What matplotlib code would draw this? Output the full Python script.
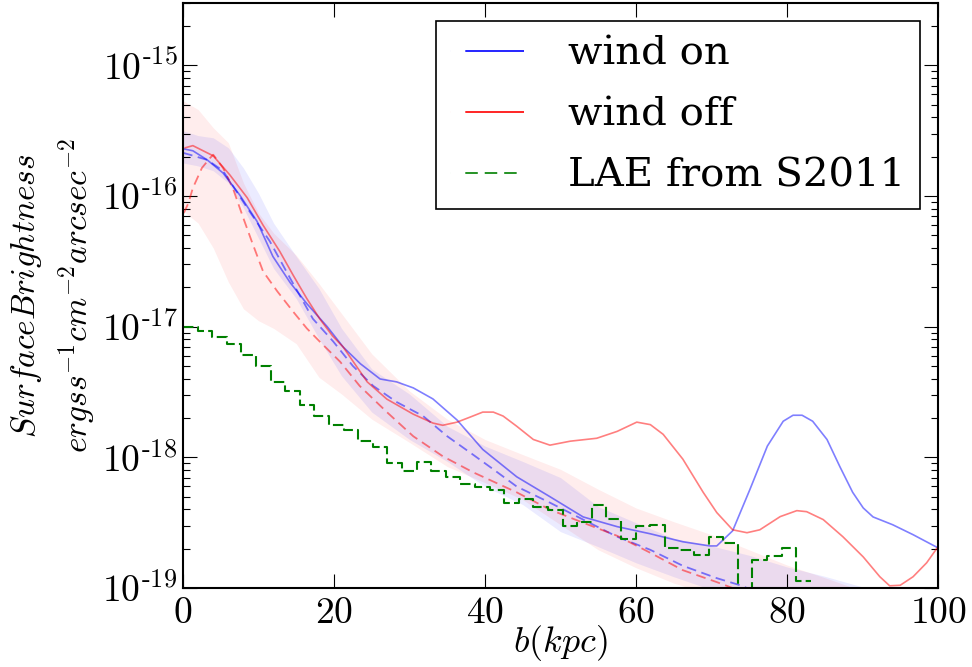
import matplotlib
matplotlib.use('Agg')
import matplotlib.pyplot as plt
from matplotlib.lines import Line2D
from matplotlib.ticker import FuncFormatter, LogLocator, FixedLocator, NullLocator
import numpy as np

plt.rcParams['mathtext.fontset'] = 'cm'
plt.rcParams['lines.scale_dashes'] = False

# wind on (solid)
on_x = [0, 1.3, 3.2, 5.3, 7.5, 9.8, 11.9, 14.2, 16.4, 19.1, 21.2, 23.5, 26.1, 28.3,
        30.5, 33.1, 36.3, 39.7, 44.2, 48.6, 53.0, 57.5, 61.9, 66.2, 69.8, 70.7, 72.8,
        75.1, 77.4, 79.5, 80.8, 82.0, 83.4, 85.3, 87.0, 88.7, 90.1, 91.4, 94.0, 96.7, 100]
on_y = [2.30e-16, 2.22e-16, 1.89e-16, 1.50e-16, 1.02e-16, 6.4e-17, 3.45e-17, 2.17e-17,
        1.50e-17, 1.0e-17, 7.0e-18, 5.2e-18, 3.98e-18, 3.78e-18, 3.40e-18, 2.8e-18,
        1.93e-18, 1.15e-18, 7.1e-19, 5.0e-19, 3.5e-19, 2.95e-19, 2.6e-19, 2.26e-19,
        2.1e-19, 2.1e-19, 2.74e-19, 5.7e-19, 1.22e-18, 1.89e-18, 2.1e-18, 2.1e-18,
        1.89e-18, 1.37e-18, 8.5e-19, 5.4e-19, 4.1e-19, 3.5e-19, 3.05e-19, 2.56e-19, 2.03e-19]

# wind off (solid)
off_x = [0.3, 1.3, 4.0, 6.2, 8.5, 10.6, 12.8, 14.6, 16.4, 18.1, 19.8, 21.2, 24.4, 27.0,
         30.5, 33.1, 34.4, 36.3, 38.0, 39.7, 41.1, 42.4, 44.2, 46.4, 48.6, 51.3, 54.8,
         57.5, 60.1, 61.9, 63.6, 66.2, 68.9, 70.7, 72.8, 74.7, 76.4, 79.1, 81.3, 82.6,
         84.8, 87.4, 90.1, 92.3, 93.6, 95.0, 96.7, 98.5, 99.9]
off_y = [2.34e-16, 2.43e-16, 2.03e-16, 1.45e-16, 9.7e-17, 5.98e-17, 3.78e-17, 2.47e-17,
         1.64e-17, 1.15e-17, 8.5e-18, 7.0e-18, 3.78e-18, 2.79e-18, 2.14e-18, 1.83e-18,
         1.76e-18, 1.86e-18, 2.03e-18, 2.22e-18, 2.22e-18, 2.07e-18, 1.73e-18, 1.37e-18,
         1.24e-18, 1.33e-18, 1.40e-18, 1.58e-18, 1.86e-18, 1.78e-18, 1.50e-18, 9.7e-19,
         5.4e-19, 3.78e-19, 2.79e-19, 2.65e-19, 2.79e-19, 3.52e-19, 3.91e-19, 3.84e-19,
         3.34e-19, 2.47e-19, 1.73e-19, 1.22e-19, 1.04e-19, 1.05e-19, 1.22e-19, 1.56e-19, 2.03e-19]

# dashed curves
on_med_x = [0, 0.9, 3.2, 5.3, 8.5, 11.5, 14.2, 17.2, 19.9, 22.5, 25.2, 28.3, 31.8, 35.0,
            38.4, 41.1, 44.2, 48.6, 53.0, 57.5, 61.9, 66.2, 70.7, 73.8, 74.7, 78.0]
on_med_y = [2.14e-16, 2.07e-16, 1.89e-16, 1.56e-16, 8.1e-17, 4.5e-17, 2.34e-17, 1.15e-17,
            7.7e-18, 5.0e-18, 3.52e-18, 2.65e-18, 2.07e-18, 1.45e-18, 1.05e-18, 8.1e-19,
            5.98e-19, 4.5e-19, 3.34e-19, 2.47e-19, 1.96e-19, 1.48e-19, 1.19e-19, 1.05e-19,
            1.0e-19, 8.5e-20]
off_med_x = [0.1, 0.7, 1.3, 2.5, 3.6, 4.0, 5.3, 6.6, 7.9, 9.1, 10.6, 12.5, 14.6, 16.4,
             18.1, 20.8, 23.4, 27.0, 30.5, 34.4, 38.4, 44.2, 48.6, 53.0, 57.5, 61.9,
             66.2, 70.7, 72.8, 76.0]
off_med_y = [7.4e-17, 8.8e-17, 1.15e-16, 1.64e-16, 1.96e-16, 2.07e-16, 1.64e-16, 1.15e-16,
             7.0e-17, 4.5e-17, 2.65e-17, 1.86e-17, 1.30e-17, 9.7e-18, 7.7e-18, 5.4e-18,
             3.52e-18, 2.22e-18, 1.45e-18, 1.02e-18, 7.7e-19, 5.4e-19, 3.98e-19, 3.16e-19,
             2.51e-19, 1.86e-19, 1.37e-19, 1.11e-19, 1.0e-19, 8.5e-20]

# shaded ranges
band_x = [0, 2, 4, 6, 8, 10, 12, 15, 18, 21, 25, 30, 35, 40, 45, 50, 55, 60, 65, 70,
          75, 80, 85, 90, 95]
on_hi = [3.16e-16, 2.90e-16, 2.79e-16, 2.34e-16, 1.64e-16, 1.05e-16, 6.2e-17, 3.45e-17,
         1.96e-17, 9.7e-18, 4.75e-18, 3.05e-18, 1.73e-18, 1.22e-18, 9.3e-19, 7.0e-19,
         4.2e-19, 3.16e-19, 2.4e-19, 2.1e-19, 1.78e-19, 1.45e-19, 1.23e-19, 1.02e-19, 7.9e-20]
on_lo = [1.79e-16, 1.70e-16, 1.56e-16, 1.26e-16, 8.1e-17, 4.75e-17, 2.79e-17, 1.64e-17,
         8.1e-18, 4.2e-18, 2.22e-18, 1.37e-18, 9.3e-19, 5.98e-19, 4.35e-19, 2.7e-19,
         2.07e-19, 1.56e-19, 1.22e-19, 9.7e-20, 7.1e-20, 5.0e-20, 4.0e-20, 3.2e-20, 2.5e-20]
off_hi = [5.37e-16, 4.59e-16, 3.33e-16, 2.56e-16, 1.26e-16, 7.4e-17, 5.2e-17, 3.52e-17,
          2.14e-17, 1.26e-17, 6.2e-18, 3.22e-18, 1.96e-18, 1.37e-18, 1.05e-18, 8.1e-19,
          5.7e-19, 4.1e-19, 3.22e-19, 2.56e-19, 1.96e-19, 1.50e-19, 1.20e-19, 9.5e-20, 7.6e-20]
off_lo = [7.7e-17, 6.2e-17, 4.0e-17, 2.2e-17, 1.37e-17, 1.11e-17, 9.7e-18, 7.4e-18,
          4.1e-18, 3.05e-18, 1.96e-18, 1.30e-18, 8.5e-19, 6.4e-19, 4.75e-19, 3.05e-19,
          1.96e-19, 1.43e-19, 1.09e-19, 8.9e-20, 6.3e-20, 4.5e-20, 3.5e-20, 2.8e-20, 2.2e-20]

# LAE from S2011 (binned profile)
lae_edges = [0, 1.93, 3.87, 5.80, 7.74, 9.67, 11.60, 13.54, 15.47, 17.41, 19.34, 21.27,
             23.21, 25.14, 27.08, 29.01, 30.94, 32.88, 34.81, 36.75, 38.68, 40.61, 42.55,
             44.48, 46.42, 48.35, 50.28, 52.22, 54.15, 56.09, 58.02, 59.95, 61.89, 63.82,
             65.76, 67.69, 69.62, 71.56, 73.49, 75.43, 77.36, 79.29, 81.23, 83.16]
lae_sb = [1.0e-17, 9.3e-18, 8.4e-18, 7.4e-18, 6.1e-18, 5.0e-18, 3.78e-18, 3.22e-18,
          2.51e-18, 2.07e-18, 1.76e-18, 1.61e-18, 1.33e-18, 1.19e-18, 9.0e-19, 7.8e-19,
          9.2e-19, 7.9e-19, 7.1e-19, 6.3e-19, 5.9e-19, 5.6e-19, 4.5e-19, 4.8e-19, 4.2e-19,
          3.98e-19, 3.0e-19, 3.22e-19, 4.35e-19, 3.4e-19, 2.38e-19, 3.0e-19, 3.05e-19,
          2.03e-19, 1.96e-19, 1.79e-19, 2.47e-19, 2.22e-19, 5.0e-20, 1.64e-19, 1.76e-19,
          2.03e-19, 1.13e-19]

x_ticks = [0, 20, 40, 60, 80, 100]
y_ticks = [1e-19, 1e-18, 1e-17, 1e-16, 1e-15]

fig = plt.figure(figsize=(9.72, 6.67), dpi=100)
ax = fig.add_axes([0.1883, 0.1184, 0.7767, 0.8771])

ax.fill_between(band_x, off_lo, off_hi, color='red', alpha=0.07, lw=0)
ax.fill_between(band_x, on_lo, on_hi, color='blue', alpha=0.08, lw=0)

ax.plot(on_med_x, on_med_y, color='blue', alpha=0.5, lw=1.3, dashes=(7, 4))
ax.plot(off_med_x, off_med_y, color='red', alpha=0.5, lw=1.3, dashes=(7, 4))
ax.plot(on_x, on_y, color='blue', alpha=0.5, lw=1.2)
ax.plot(off_x, off_y, color='red', alpha=0.5, lw=1.2)
ax.step(lae_edges, lae_sb + [lae_sb[-1]], where='post', color='green', lw=1.5,
        dashes=(7.5, 3))

ax.set_yscale('log')
ax.set_xlim(0, 100)
ax.set_ylim(1e-19, 3e-15)

ax.xaxis.set_major_locator(FixedLocator(x_ticks))
ax.xaxis.set_minor_locator(NullLocator())
ax.xaxis.set_major_formatter(FuncFormatter(lambda v, p: '$%d$' % v))
ax.yaxis.set_major_locator(FixedLocator(y_ticks))
ax.yaxis.set_minor_locator(LogLocator(base=10, subs=np.arange(2, 10)))
ax.yaxis.set_major_formatter(
    FuncFormatter(lambda v, p: '$10^{\\text{-}%d}$' % abs(round(np.log10(v)))))

ax.tick_params(which='both', direction='in', top=True, right=True, labelsize=27)
ax.tick_params(which='major', length=10, width=0.8)
ax.tick_params(which='minor', length=5, width=0.8)
ax.tick_params(axis='x', pad=5)
ax.tick_params(axis='y', pad=4)
for s in ax.spines.values():
    s.set_linewidth(1.5)

ax.set_xlabel('$b(kpc)$', fontsize=26)
ax.xaxis.set_label_coords(0.5, -0.06)
ax.set_ylabel('$Surface Brightness$\n$ergs s^{-1} cm^{-2} arcsec^{-2}$', fontsize=24,
              linespacing=1.4)
ax.yaxis.set_label_coords(-0.112, 0.5)

# legend handles: leading gap inside the handle box as in the reference
handles = [Line2D([], [], color='blue', lw=1.2, linestyle=(0, (0.01, 11, 50, 200))),
           Line2D([], [], color='red', lw=1.2, linestyle=(0, (0.01, 11, 50, 200))),
           Line2D([], [], color='green', lw=1.2,
                  linestyle=(0, (0.01, 11, 9, 5, 9, 5, 9, 200)))]
leg = ax.legend(handles, ['wind on', 'wind off', 'LAE from S2011'], loc='upper right',
                prop={'family': 'DejaVu Serif', 'size': 29}, fancybox=False,
                framealpha=1, edgecolor='black', handlelength=1.84, handletextpad=1.09,
                labelspacing=0.6, borderpad=0.36, borderaxespad=0.45)
leg.get_frame().set_linewidth(1.2)

fig.savefig('out.png', dpi=100)
